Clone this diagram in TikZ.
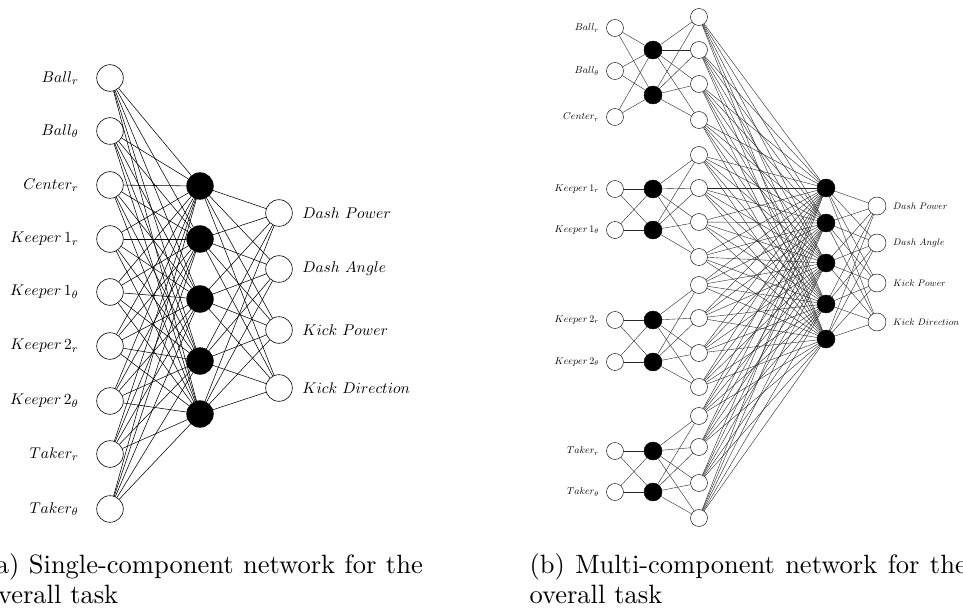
\documentclass[tikz,border=0pt]{standalone}
\begin{document}
\begin{tikzpicture}[x=1pt,y=-1pt,
  % single-component network
  inA/.style={circle,draw,fill=white,minimum size=26.6pt,inner sep=0pt,line width=0.6pt},
  hidA/.style={circle,draw,fill=black,minimum size=26.6pt,inner sep=0pt,line width=0.6pt},
  edgeA/.style={line width=0.55pt,black},
  labA/.style={scale=1.55,inner sep=0pt},
  % multi-component network
  inB/.style={circle,draw,fill=white,minimum size=17pt,inner sep=0pt,line width=0.45pt},
  hidB/.style={circle,draw,fill=black,minimum size=18pt,inner sep=0pt,line width=0.45pt},
  edgeB/.style={line width=0.4pt,black!85},
  labB/.style={scale=1.0,inner sep=0pt},
  labBo/.style={scale=0.95,inner sep=0pt},
  capt/.style={scale=2.65,inner sep=0pt,anchor=base west}]
\useasboundingbox (0,0) rectangle (963,612);
\clip (0,0) rectangle (963,612);

% ---------------- (a) single-component network ----------------
\foreach \y/\t [count=\i] in {78/{Ball_r},131/{Ball_\theta},185/{Center_r},
    239/{Keeper\,1_r},292/{Keeper\,1_\theta},346/{Keeper\,2_r},
    401/{Keeper\,2_\theta},454/{Taker_r},509/{Taker_\theta}} {
  \node[inA] (aI\i) at (110,\y) {};
  \node[labA,anchor=east] (aIL\i) at (79,\y) {$\t$};
}
\foreach \y [count=\i] in {186,239,299,361,414}
  \node[hidA] (aH\i) at (200,\y) {};
\foreach \y/\t [count=\i] in {213/{Dash\ Power},269/{Dash\ Angle},
    330/{Kick\ Power},388/{Kick\ Direction}} {
  \node[inA] (aO\i) at (279,\y) {};
  \node[labA,anchor=west] (aOL\i) at (302,\y) {$\t$};
}
\foreach \i in {1,...,9}
  \foreach \j in {1,...,5}
    \draw[edgeA] (aI\i) -- (aH\j);
\foreach \j in {1,...,5}
  \foreach \k in {1,...,4}
    \draw[edgeA] (aH\j) -- (aO\k);

% caption lines: the first line is justified to the caption width
\node[capt] (capA1) at (-15,573) {\makebox[165pt][s]{(a) Single-component network for the}};
\node[capt] (capA2) at (-15,603) {overall task};

% ---------------- (b) multi-component network ----------------
\foreach \y/\t [count=\i] in {28/{Ball_r},71/{Ball_\theta},117/{Center_r},
    189/{Keeper\,1_r},230/{Keeper\,1_\theta},320/{Keeper\,2_r},
    362/{Keeper\,2_\theta},451/{Taker_r},492/{Taker_\theta}} {
  \node[inB] (bI\i) at (615,\y) {};
  \node[labB,anchor=east] (bIL\i) at (599,\y) {$\t$};
}
\foreach \y [count=\i] in {50,95,189,230,320,362,451,492}
  \node[hidB] (bH\i) at (653,\y) {};
\foreach \y [count=\i] in {17,50,84,120,155,188,222,257,285,318,353,387,416,447,483,518}
  \node[inB] (bW\i) at (699,\y) {};
\foreach \y [count=\i] in {188,223,263,304,339}
  \node[hidB] (bK\i) at (826,\y) {};
\foreach \y/\t [count=\i] in {206/{Dash\ Power},243/{Dash\ Angle},
    283/{Kick\ Power},322/{Kick\ Direction}} {
  \node[inB,minimum size=18pt] (bO\i) at (877,\y) {};
  \node[labBo,anchor=west] (bOL\i) at (893,\y) {$\t$};
}
% inputs to the hidden units of their own component
\foreach \i/\j in {1/1,1/2,2/1,2/2,3/1,3/2,4/3,4/4,5/3,5/4,
                   6/5,6/6,7/5,7/6,8/7,8/8,9/7,9/8}
  \draw[edgeB] (bI\i) -- (bH\j);
% component hidden units to the component output units
\foreach \g in {1,...,4}
  \foreach \a in {1,2}
    \foreach \w in {1,...,4} {
      \pgfmathtruncatemacro\hh{2*\g-2+\a}
      \pgfmathtruncatemacro\ww{4*\g-4+\w}
      \draw[edgeB] (bH\hh) -- (bW\ww);
    }
% merged layer
\foreach \w in {1,...,16}
  \foreach \k in {1,...,5}
    \draw[edgeB] (bW\w) -- (bK\k);
\foreach \k in {1,...,5}
  \foreach \o in {1,...,4}
    \draw[edgeB] (bK\k) -- (bO\o);

\node[capt] (capB1) at (529,573) {\makebox[165pt][s]{(b) Multi-component network for the}};
\node[capt] (capB2) at (529,603) {overall task};
\end{tikzpicture}
\end{document}
